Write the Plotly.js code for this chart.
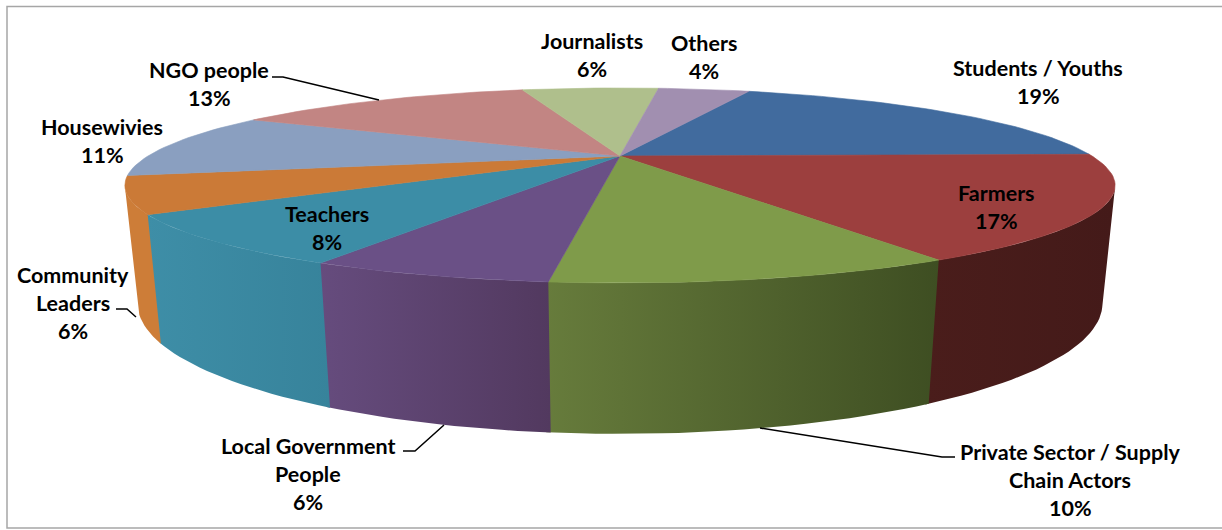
<!DOCTYPE html>
<html>
<head>
<meta charset="utf-8">
<script src="https://cdn.plot.ly/plotly-3.0.1.min.js"></script>
<style>html,body{margin:0;padding:0;background:#fff}#chart{width:1222px;height:530px}</style>
</head>
<body>
<div id="chart"></div>
<script>
// Audience shares, clockwise from the top of the pie
const categories = ["Students / Youths","Farmers","Private Sector / Supply Chain Actors","Local Government People","Teachers","Community Leaders","Housewivies","NGO people","Journalists","Others"];
const percents = [19,17,10,6,8,6,11,13,6,4];
const topColors = ["#416b9e","#9c3f3e","#7f9b4a","#6a5086","#3c8da6","#cb7a37","#8a9fc0","#c28583","#afbf8c","#a18fb0"];
const sideLeft  = ["#416b9e","#4a1d1b","#677c3c","#664c7e","#3e8ea7","#cd7d38","#8a9fc0","#c28583","#afbf8c","#a18fb0"];
const sideRight = ["#416b9e","#441a19","#3e4e22","#52395f","#37839b","#cd7d38","#8a9fc0","#c28583","#afbf8c","#a18fb0"];

// Text lines of each data label with their centre x and first line-centre y
const labelLines = [
  [["Students / Youths","19%"],1038,67.5],
  [["Farmers","17%"],996,192.5],
  [["Private Sector / Supply","Chain Actors","10%"],1070,451.5],
  [["Local Government","People","6%"],308,445.5],
  [["Teachers","8%"],327,213.5],
  [["Community","Leaders","6%"],73,274.5],
  [["Housewivies","11%"],102,126.5],
  [["NGO people","13%"],209,69.5],
  [["Journalists","6%"],592,40.5],
  [["Others","4%"],704,42.5]
];
const lineStep = 28;

// Leader lines
const leaders = [
  [[272,283,379],[77,77,100]],
  [[116,127,136],[309,309,317]],
  [[403,415,444],[451,451,425]],
  [[955,942,760],[457,457,428]]
];

// Perspective camera for the tilted cylinder: u,v on the unit disc, z = 0 top, 1 bottom
const cam = {cx:620, cy:156, R:472, H:88.6, k:0.302, D:112, m:0.024};
function project(deg, z, r) {
  const a = deg * Math.PI / 180, u = r * Math.cos(a), v = r * Math.sin(a);
  const w = 1 - cam.k * v + cam.m * z;
  return [cam.cx + cam.R * u / w, cam.cy + (cam.H * v + cam.D * z) / w];
}
function arc(a, b, z) {
  const n = Math.max(2, Math.ceil(Math.abs(b - a) / 1.5));
  const pts = [];
  for (let i = 0; i <= n; i++) pts.push(project(a + (b - a) * i / n, z, 1));
  return pts;
}

// Edges of the visible wall: where rays from the vertical vanishing point touch the rim
const vpx = cam.cx, vpy = cam.cy + cam.D / cam.m;
let wallStart = 0, wallEnd = 180, lo = Infinity, hi = -Infinity;
for (let d = -90; d <= 270; d += 0.25) {
  const p = project(d, 0, 1), s = (p[0] - vpx) / (vpy - p[1]);
  if (s > hi) { hi = s; wallStart = d; }
  if (s < lo) { lo = s; wallEnd = d; }
}

// Slice boundaries in degrees, screen-clockwise from due east
const firstSliceEnd = -1.1;
const edges = [firstSliceEnd - percents[0] * 3.6];
percents.forEach(p => edges.push(edges[edges.length - 1] + p * 3.6));

const traces = [];
const base = {type:"scatter", mode:"lines", fill:"toself", hoverinfo:"skip", showlegend:false};

// Outer wall, each slice shaded left to right
categories.forEach((name, i) => {
  const a = Math.max(edges[i], wallStart), b = Math.min(edges[i + 1] + 0.4, wallEnd);
  if (b <= a) return;
  const pts = arc(a, b, 0).concat(arc(b, a, 1));
  traces.push(Object.assign({}, base, {
    name: name + " wall",
    x: pts.map(p => p[0]), y: pts.map(p => p[1]),
    line: {width:0, color:sideLeft[i]},
    fillcolor: sideLeft[i],
    fillgradient: {type:"horizontal", colorscale:[[0, sideLeft[i]],[1, sideRight[i]]]}
  }));
});

// Top face
categories.forEach((name, i) => {
  const pts = [project(0, 0, 0)].concat(arc(edges[i], edges[i + 1], 0));
  pts.push(project(0, 0, 0));
  traces.push(Object.assign({}, base, {
    name: name,
    x: pts.map(p => p[0]), y: pts.map(p => p[1]),
    line: {width:0.6, color:topColors[i]},
    fillcolor: topColors[i]
  }));
});

// Leader lines
leaders.forEach(l => traces.push({
  type:"scatter", mode:"lines", x:l[0], y:l[1], hoverinfo:"skip", showlegend:false,
  line:{color:"#000", width:1.5}
}));

const annotations = [];
labelLines.forEach(([lines, x, y]) => lines.forEach((t, j) => annotations.push({
  text:t, x:x, y:y + j * lineStep, xref:"x", yref:"y", xanchor:"center", yanchor:"middle",
  showarrow:false, font:{family:"Lato, 'Open Sans', sans-serif", size:21.5, color:"#000", weight:700}
})));

const layout = {
  width:1222, height:530, margin:{l:0,r:0,t:0,b:0},
  paper_bgcolor:"#fff", plot_bgcolor:"#fff", showlegend:false,
  xaxis:{range:[0,1222], visible:false, fixedrange:true},
  yaxis:{range:[530,0], visible:false, fixedrange:true},
  annotations:annotations,
  shapes:[{type:"rect", xref:"x", yref:"y", x0:7, y0:6.5, x1:1230, y1:528,
           line:{color:"#a6a6a6", width:1.5}, layer:"below"}]
};
Plotly.newPlot("chart", traces, layout, {displayModeBar:false, staticPlot:true});
</script>
</body>
</html>
